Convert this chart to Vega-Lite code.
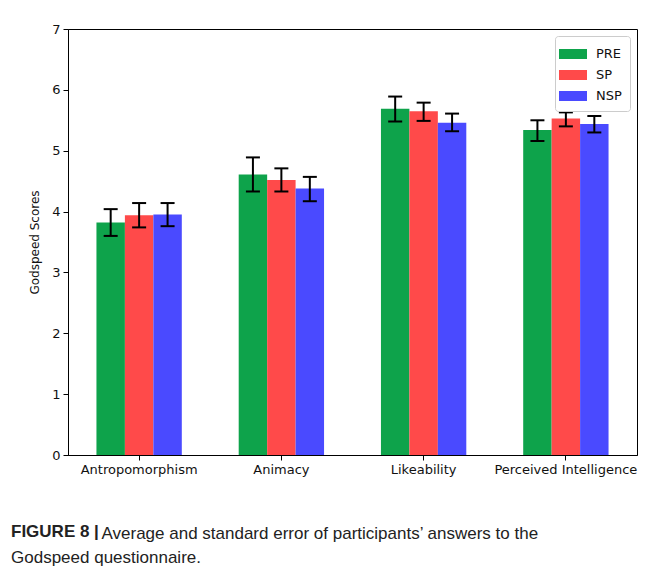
{
  "$schema": "https://vega.github.io/schema/vega-lite/v6.json",
  "width": 569,
  "height": 426,
  "autosize": {"type": "none"},
  "padding": {"left": 68, "top": 29, "right": 15, "bottom": 120},
  "background": "white",
  "title": {
    "text": "FIGURE 8 |",
    "subtitle": "Godspeed questionnaire.",
    "orient": "bottom",
    "anchor": "start",
    "frame": "group",
    "dx": -57,
    "offset": -17,
    "font": "Liberation Sans",
    "fontSize": 17,
    "fontWeight": "bold",
    "color": "#222222",
    "subtitleFont": "Liberation Sans",
    "subtitleFontSize": 17,
    "subtitleFontWeight": "normal",
    "subtitleColor": "#222222",
    "subtitlePadding": 9
  },
  "config": {
    "view": {"stroke": "black", "strokeWidth": 1},
    "axis": {
      "grid": false,
      "domainColor": "black",
      "tickColor": "black",
      "labelColor": "#111111",
      "labelFont": "DejaVu Sans",
      "labelFontSize": 13,
      "tickSize": 5,
      "labelPadding": 3
    }
  },
  "data": {
    "values": [
      {"category": "Antropomorphism", "group": "PRE", "mean": 3.82, "lo": 3.6, "hi": 4.04},
      {"category": "Antropomorphism", "group": "SP", "mean": 3.94, "lo": 3.74, "hi": 4.14},
      {"category": "Antropomorphism", "group": "NSP", "mean": 3.95, "lo": 3.76, "hi": 4.14},
      {"category": "Animacy", "group": "PRE", "mean": 4.61, "lo": 4.33, "hi": 4.89},
      {"category": "Animacy", "group": "SP", "mean": 4.52, "lo": 4.33, "hi": 4.71},
      {"category": "Animacy", "group": "NSP", "mean": 4.38, "lo": 4.17, "hi": 4.57},
      {"category": "Likeability", "group": "PRE", "mean": 5.69, "lo": 5.48, "hi": 5.89},
      {"category": "Likeability", "group": "SP", "mean": 5.65, "lo": 5.49, "hi": 5.79},
      {"category": "Likeability", "group": "NSP", "mean": 5.46, "lo": 5.32, "hi": 5.61},
      {"category": "Perceived Intelligence", "group": "PRE", "mean": 5.34, "lo": 5.16, "hi": 5.5},
      {"category": "Perceived Intelligence", "group": "SP", "mean": 5.53, "lo": 5.4, "hi": 5.63},
      {"category": "Perceived Intelligence", "group": "NSP", "mean": 5.44, "lo": 5.3, "hi": 5.57}
    ]
  },
  "encoding": {
    "x": {
      "field": "category",
      "type": "nominal",
      "sort": ["Antropomorphism", "Animacy", "Likeability", "Perceived Intelligence"],
      "scale": {"paddingInner": 0.4, "paddingOuter": 0.2},
      "axis": {
        "labelAngle": 0,
        "title": "Average and standard error of participants\u2019 answers to the",
        "titleFont": "Liberation Sans",
        "titleFontSize": 17,
        "titleFontWeight": "normal",
        "titleColor": "#222222",
        "titleAnchor": "start",
        "titleAlign": "left",
        "titleBaseline": "alphabetic",
        "titleX": 33,
        "titleY": 83
      }
    },
    "xOffset": {"field": "group", "type": "nominal", "sort": ["PRE", "SP", "NSP"]}
  },
  "layer": [
    {
      "mark": {"type": "bar"},
      "encoding": {
        "y": {
          "field": "mean",
          "type": "quantitative",
          "scale": {"domain": [0, 7], "nice": false},
          "axis": {
            "values": [0, 1, 2, 3, 4, 5, 6, 7],
            "format": "d",
            "title": "Godspeed Scores",
            "titleFont": "DejaVu Sans",
            "titleFontSize": 12,
            "titleFontWeight": "normal",
            "titleColor": "#111111",
            "titlePadding": 10
          }
        },
        "color": {
          "field": "group",
          "type": "nominal",
          "sort": ["PRE", "SP", "NSP"],
          "scale": {"domain": ["PRE", "SP", "NSP"], "range": ["#0ea34b", "#ff4a4a", "#4a4aff"]},
          "legend": {
            "title": null,
            "orient": "top-right",
            "offset": 7,
            "fillColor": "white",
            "strokeColor": "#cccccc",
            "cornerRadius": 3,
            "padding": 8,
            "symbolType": "M-1.4,-0.5H1.4V0.5H-1.4Z",
            "symbolSize": 400,
            "symbolStrokeWidth": 0,
            "symbolOpacity": 1,
            "labelFont": "DejaVu Sans",
            "labelFontSize": 13,
            "labelColor": "#111111",
            "labelOffset": 13,
            "rowPadding": 4
          }
        }
      }
    },
    {
      "mark": {"type": "rule", "color": "black", "strokeWidth": 2},
      "encoding": {
        "y": {"field": "lo", "type": "quantitative"},
        "y2": {"field": "hi"}
      }
    },
    {
      "mark": {"type": "tick", "color": "black", "thickness": 2, "size": 14, "opacity": 1},
      "encoding": {"y": {"field": "lo", "type": "quantitative"}}
    },
    {
      "mark": {"type": "tick", "color": "black", "thickness": 2, "size": 14, "opacity": 1},
      "encoding": {"y": {"field": "hi", "type": "quantitative"}}
    }
  ]
}
